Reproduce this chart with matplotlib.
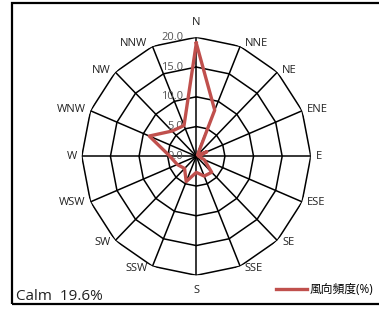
import numpy as np
import matplotlib; matplotlib.use("Agg")
import matplotlib.pyplot as plt
from matplotlib.patches import Rectangle

plt.rcParams['font.family'] = ['Open Sans', 'Noto Sans CJK JP', 'DejaVu Sans']

# wind direction frequency (%), N clockwise
directions = ["N", "NNE", "NE", "ENE", "E", "ESE", "SE", "SSE",
              "S", "SSW", "SW", "WSW", "W", "WNW", "NW", "NNW"]
freq = [19.0, 8.4, 0.3, 2.0, 0.4, 1.5, 3.8, 3.6,
        2.7, 4.6, 2.9, 3.6, 4.6, 8.9, 6.0, 5.6]
rings = [5, 10, 15, 20]
ring_labels = ["0.0", "5.0", "10.0", "15.0", "20.0"]
calm = "Calm  19.6%"
series_name = "風向頻度(%)"

W, H = 379, 309
fig = plt.figure(figsize=(W / 100, H / 100), dpi=100)
fig.patches.append(Rectangle((12 / W, 5 / H), 1.2, 301.5 / H,
                             transform=fig.transFigure, fill=False,
                             ec="black", lw=1.6))

cx, cy, rx, ry = 196.3, 156.3, 114.5, 119
ax = fig.add_axes([(cx - rx) / W, (H - cy - ry) / H, 2 * rx / W, 2 * ry / H],
                  projection="polar")
ax.set_aspect("auto")
ax.set_theta_zero_location("N")
ax.set_theta_direction(-1)
ax.set_ylim(0, 20)
ax.grid(False)
ax.spines["polar"].set_visible(False)
ax.set_xticks([]); ax.set_yticks([])
ax.patch.set_alpha(0)

theta = np.deg2rad(np.arange(16) * 22.5)
th_closed = np.append(theta, theta[0])

# polygon rings and spokes (Excel radar style)
for r in rings:
    ax.plot(th_closed, [r] * 17, color="black", lw=1.1, zorder=1)
for t in theta:
    ax.plot([t, t], [0, 20], color="black", lw=1.1, zorder=1)

ax.plot(th_closed, np.append(freq, freq[0]), color="#c0504d", lw=2.4,
        zorder=3, label=series_name)

# category labels just outside the outer ring
for t, d in zip(theta, directions):
    s, c = np.sin(t), np.cos(t)
    if abs(s) < 1e-6:
        ha, off = "center", (0, 7 * np.sign(c))
        va = "bottom" if c > 0 else "top"
    else:
        ha = "left" if s > 0 else "right"
        va = "center"
        off = (3.5 * np.sign(s), 2 * c)
    ax.annotate(d, xy=(t, 20), xytext=off, textcoords="offset points",
                ha=ha, va=va, fontsize=8, color="#222222",
                annotation_clip=False)

for r, lab in zip([0] + rings, ring_labels):
    ax.annotate(lab, xy=(0, r), xytext=(-9.5, 0), textcoords="offset points",
                ha="right", va="center", fontsize=8, color="#555555", zorder=2)

fig.text(16 / W, 1 - 296 / H, calm, ha="left", va="center", fontsize=11,
         color="#222222")
fig.legend(loc="lower right", bbox_to_anchor=(1.0, 7 / H), frameon=False,
           fontsize=8.5, handlelength=2.6, handletextpad=0.2,
           borderaxespad=0.1)

fig.savefig("out.png", dpi=100)
